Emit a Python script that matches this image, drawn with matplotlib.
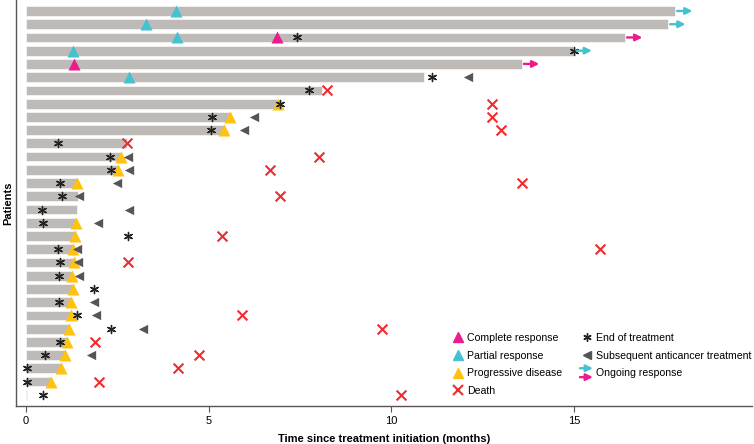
import numpy as np
import matplotlib
matplotlib.use("Agg")
import matplotlib.pyplot as plt
from matplotlib.lines import Line2D
from matplotlib.patches import FancyArrowPatch
from matplotlib.legend_handler import HandlerBase

plt.rcParams["font.family"] = ["Liberation Sans", "DejaVu Sans"]

nan = np.nan

# one entry per patient, top to bottom (months)
duration = [17.75, 17.56, 16.38, 14.96, 13.56, 10.9, 8.1, 6.87, 5.6, 5.42,
            2.76, 2.6, 2.53, 1.41, 1.44, 1.39, 1.37, 1.34, 1.30, 1.30,
            1.27, 1.28, 1.25, 1.23, 1.17, 1.14, 1.08, 0.97, 0.70, 0.03]
complete_resp = [nan, nan, 6.87, nan, 1.32, nan, nan, nan, nan, nan,
                 nan, nan, nan, nan, nan, nan, nan, nan, nan, nan,
                 nan, nan, nan, nan, nan, nan, nan, nan, nan, nan]
partial_resp = [4.1, 3.29, 4.14, 1.28, nan, 2.82, nan, nan, nan, nan,
                nan, nan, nan, nan, nan, nan, nan, nan, nan, nan,
                nan, nan, nan, nan, nan, nan, nan, nan, nan, nan]
progression = [nan, nan, nan, nan, nan, nan, nan, 6.9, 5.59, 5.42,
               nan, 2.6, 2.53, 1.41, nan, nan, 1.37, 1.34, 1.30, 1.31,
               1.27, 1.28, 1.25, 1.23, 1.17, 1.14, 1.08, 0.97, 0.70, nan]
end_treatment = [nan, nan, 7.42, 15.0, nan, 11.12, 7.75, 6.96, 5.1, 5.06,
                 0.88, 2.3, 2.33, 0.95, 0.99, 0.45, 0.48, 2.79, 0.88, 0.94,
                 0.91, 1.87, 0.91, 1.39, 2.33, 0.95, 0.52, 0.03, 0.03, 0.48]
subsequent_tx = [nan, nan, nan, nan, nan, 12.1, nan, nan, 6.25, 5.98,
                 nan, 2.79, 2.83, 2.5, 1.46, 2.83, 1.98, nan, 1.39, 1.42,
                 1.46, nan, 1.88, 1.92, 3.2, nan, 1.78, nan, nan, nan]
death = [nan, nan, nan, nan, nan, nan, 8.25, 12.74, 12.74, 12.99,
         2.76, 8.03, 6.67, 13.56, 6.94, nan, nan, 5.36, 15.7, 2.79,
         nan, nan, nan, 5.92, 9.75, 1.9, 4.75, 4.17, 2.0, 10.27]
# ongoing response arrow: "PR", "CR" or None
ongoing = ["PR", "PR", "CR", "PR", "CR"] + [None] * 25

c_cr = "#EC1C8E"
c_pr = "#45C2D1"
c_pd = "#FFC20E"
c_death = "#EE2B2E"
c_eot = "#222222"
c_sat = "#555555"
c_bar = "#BEBAB7"

rows = np.arange(1, len(duration) + 1)


class ArrowPair:
    def __init__(self, colors):
        self.colors = colors


class HandlerArrows(HandlerBase):
    # two stacked arrows (cyan over magenta) for the legend
    def create_artists(self, legend, orig_handle, xdescent, ydescent,
                       width, height, fontsize, trans):
        arts = []
        for i, c in enumerate(orig_handle.colors):
            yy = height / 2 - ydescent + 3.2 - 6.4 * i
            a = FancyArrowPatch((-xdescent - 1.5, yy), (-xdescent + width + 1, yy),
                                arrowstyle="-|>", mutation_scale=10,
                                color=c, lw=1.7, shrinkA=0, shrinkB=0,
                                transform=trans)
            arts.append(a)
        return arts


fig = plt.figure(figsize=(7.54, 4.44), dpi=100)
ax = fig.add_axes([0.021, 0.086, 0.976, 0.914])

ax.barh(rows, duration, height=0.74, color=c_bar, edgecolor="white", linewidth=0.4)

ax.scatter(partial_resp, rows, marker="^", s=75, color=c_pr, zorder=3, linewidths=0)
ax.scatter(complete_resp, rows, marker="^", s=75, color=c_cr, zorder=3, linewidths=0)
ax.scatter(progression, rows, marker="^", s=75, color=c_pd, zorder=3, linewidths=0)
ax.scatter(subsequent_tx, rows, marker="<", s=45, color=c_sat, zorder=4, linewidths=0)
ax.scatter(end_treatment, rows, marker=(6, 2, 0), s=34, color=c_eot, zorder=5, linewidths=1.0)
ax.scatter(death, rows, marker="x", s=50, color=c_death, zorder=4, linewidths=1.5)

for r, d, e, o in zip(rows, duration, end_treatment, ongoing):
    if o is None:
        continue
    start = d if np.isnan(e) else max(d, e)
    ax.annotate("", xy=(start + 0.48, r), xytext=(start + 0.06, r),
                arrowprops=dict(arrowstyle="-|>", color=c_pr if o == "PR" else c_cr,
                                lw=1.7, mutation_scale=10, shrinkA=0, shrinkB=0),
                zorder=5)

ax.set_xlim(-0.27, 19.85)
ax.set_ylim(30.83, 0.17)
ax.set_xticks([0, 5, 10, 15])
ax.set_yticks([])
ax.tick_params(axis="x", labelsize=8, length=4, color="#555555", pad=3)
for s in ["top", "right"]:
    ax.spines[s].set_visible(False)
for s in ["left", "bottom"]:
    ax.spines[s].set_color("#555555")
    ax.spines[s].set_linewidth(1.0)

ax.set_xlabel("Time since treatment initiation (months)", fontsize=8, fontweight="bold", labelpad=6)
ax.set_ylabel("Patients", fontsize=8, fontweight="bold", labelpad=2)

handles = [
    Line2D([], [], marker="^", color=c_cr, ls="none", markersize=7),
    Line2D([], [], marker="^", color=c_pr, ls="none", markersize=7),
    Line2D([], [], marker="^", color=c_pd, ls="none", markersize=7),
    Line2D([], [], marker="x", color=c_death, ls="none", markersize=7, mew=1.5),
    Line2D([], [], marker=(6, 2, 0), color=c_eot, ls="none", markersize=6, mew=1.0),
    Line2D([], [], marker="<", color=c_sat, ls="none", markersize=6),
    ArrowPair([c_pr, c_cr]),
]
labels = ["Complete response", "Partial response", "Progressive disease", "Death",
          "End of treatment", "Subsequent anticancer treatment", "Ongoing response"]
ax.legend(handles, labels, loc="upper left", bbox_to_anchor=(0.587, 0.192),
          ncol=2, frameon=False, fontsize=7.6, handlelength=0.9, handletextpad=0.45,
          labelspacing=0.72, columnspacing=1.85, borderpad=0,
          handler_map={ArrowPair: HandlerArrows()})

fig.savefig("out.png", dpi=100)
